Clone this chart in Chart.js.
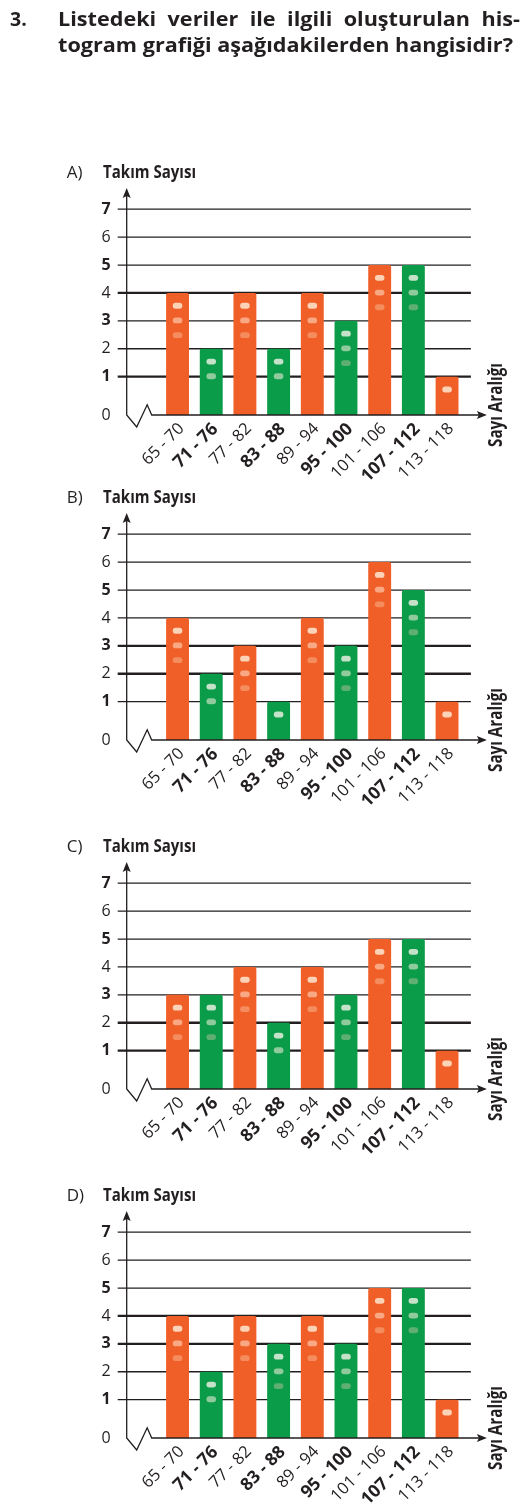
<!DOCTYPE html>
<html lang="tr">
<head>
<meta charset="utf-8">
<title>Histogram grafiği</title>
<script src="https://cdn.jsdelivr.net/npm/chart.js@4.4.1/dist/chart.umd.min.js"></script>
<style>
  html, body { margin: 0; padding: 0; background: #fff; }
  body { width: 531px; height: 1511px; position: relative; overflow: hidden; }
  #header { position: absolute; left: 0; top: 0; }
  .panel { position: absolute; left: 0; width: 531px; height: 330px; }
</style>
</head>
<body>
<canvas id="header" width="531" height="70"></canvas>
<div class="panel" style="top:150px"><canvas id="chartA" width="531" height="330"></canvas></div>
<div class="panel" style="top:475px"><canvas id="chartB" width="531" height="330"></canvas></div>
<div class="panel" style="top:824px"><canvas id="chartC" width="531" height="330"></canvas></div>
<div class="panel" style="top:1173px"><canvas id="chartD" width="531" height="330"></canvas></div>
<script>
// veriler
const categories = ["65 - 70", "71 - 76", "77 - 82", "83 - 88", "89 - 94", "95 - 100", "101 - 106", "107 - 112", "113 - 118"];
const seriesA = [4, 2, 4, 2, 4, 3, 5, 5, 1];
const seriesB = [4, 2, 3, 1, 4, 3, 6, 5, 1];
const seriesC = [3, 3, 4, 2, 4, 3, 5, 5, 1];
const seriesD = [4, 2, 4, 3, 4, 3, 5, 5, 1];
const yTickValues = [0, 1, 2, 3, 4, 5, 6, 7];
const yTickLabels = ["0", "1", "2", "3", "4", "5", "6", "7"];
const panelLetters = ["A)", "B)", "C)", "D)"];
const yTitle = "Takım Sayısı";
const xTitle = "Sayı Aralığı";
const questionNo = "3.";
const questionLine1 = "Listedeki veriler ile ilgili oluşturulan his-";
const questionLine2 = "togram grafiği aşağıdakilerden hangisidir?";

// stil
const ORANGE = "#F15F28";
const GREEN = "#0A9C48";
const INK = "#231F20";
const DOTS_ORANGE = ["#FDD3B8", "#F9A883", "#F58C5E"];
const DOTS_GREEN = ["#C3E2C8", "#8FCB9C", "#5FAF74"];
const Y_BASE = -0.373;   // kırık eksen: 0 burada
const Y_TOP = 7.76;
const FONT = "'Open Sans', 'Noto Sans', sans-serif";
const NARROW = "'Liberation Sans Narrow', 'Open Sans', sans-serif";

// metni genişliğe sığdır
function fitText(ctx, text, x, y, w) {
    const m = ctx.measureText(text).width;
    ctx.save();
    ctx.translate(x, y);
    ctx.scale(w / m, 1);
    ctx.fillText(text, 0, 0);
    ctx.restore();
}

// başlık
(function drawHeader() {
    const c = document.getElementById("header");
    const ctx = c.getContext("2d");
    ctx.fillStyle = INK;
    ctx.font = "bold 19.5px " + FONT;
    ctx.textBaseline = "alphabetic";
    ctx.fillText(questionNo, 10, 26);

    const s = 455 / ctx.measureText(questionLine2).width;
    ctx.save();
    ctx.translate(58, 52.3);
    ctx.scale(s, 1);
    ctx.fillText(questionLine2, 0, 0);
    ctx.restore();

    // ilk satır iki yana yaslı
    const words = questionLine1.split(" ");
    const widths = words.map(w => ctx.measureText(w).width * s);
    const total = widths.reduce((a, b) => a + b, 0);
    const gap = (462 - total) / (words.length - 1);
    let x = 58;
    words.forEach((w, i) => {
        ctx.save();
        ctx.translate(x, 26);
        ctx.scale(s, 1);
        ctx.fillText(w, 0, 0);
        ctx.restore();
        x += widths[i] + gap;
    });
})();

// eksenler, ızgara, noktalar
const decor = {
    id: "decor",
    beforeDatasetsDraw(chart, args, opts) {
        const { ctx, chartArea: a, scales: { y } } = chart;
        ctx.save();
        ctx.strokeStyle = INK;
        yTickValues.forEach(v => {
            if (v === 0) return;
            const py = y.getPixelForValue(v);
            ctx.lineWidth = opts.thick.includes(v) ? 2.3 : 1.3;
            ctx.beginPath();
            ctx.moveTo(a.left - 43, py);
            ctx.lineTo(a.right + 7, py);
            ctx.stroke();
        });
        ctx.restore();
    },
    afterDatasetsDraw(chart, args, opts) {
        const { ctx, chartArea: a, scales: { y } } = chart;
        const values = chart.data.datasets[0].data;
        const axisY = y.getPixelForValue(Y_BASE);
        const xA = a.left - 34;

        // çubuk üzerindeki noktalar
        chart.getDatasetMeta(0).data.forEach((bar, i) => {
            const n = Math.min(values[i], 3);
            const cols = i % 2 ? DOTS_GREEN : DOTS_ORANGE;
            for (let k = 0; k < n; k++) {
                const cy = bar.y + 12.8 + k * 14.7;
                ctx.fillStyle = cols[k];
                ctx.beginPath();
                ctx.roundRect(bar.x - 4.8, cy - 2.9, 9.6, 5.8, 2.9);
                ctx.fill();
            }
        });

        ctx.save();
        ctx.strokeStyle = INK;
        ctx.fillStyle = INK;
        ctx.lineWidth = 1.3;
        ctx.lineJoin = "miter";

        // dikey eksen + kırık
        ctx.beginPath();
        ctx.moveTo(xA, a.top + 6);
        ctx.lineTo(xA, axisY);
        ctx.lineTo(xA + 10, axisY + 12);
        ctx.lineTo(xA + 20.5, axisY - 10.3);
        ctx.lineTo(xA + 25, axisY);
        ctx.lineTo(a.right + 17, axisY);
        ctx.stroke();

        // oklar
        ctx.beginPath();
        ctx.moveTo(xA, a.top);
        ctx.lineTo(xA + 4, a.top + 10);
        ctx.lineTo(xA, a.top + 8);
        ctx.lineTo(xA - 4, a.top + 10);
        ctx.closePath();
        ctx.fill();
        ctx.beginPath();
        ctx.moveTo(a.right + 23, axisY);
        ctx.lineTo(a.right + 13, axisY + 4);
        ctx.lineTo(a.right + 15, axisY);
        ctx.lineTo(a.right + 13, axisY - 4);
        ctx.closePath();
        ctx.fill();

        // yazılar
        ctx.textBaseline = "alphabetic";
        ctx.textAlign = "left";
        ctx.font = "17px " + FONT;
        ctx.fillText(opts.letter, 66.7, axisY - 237);
        ctx.font = "bold 18px " + NARROW;
        fitText(ctx, yTitle, 103, axisY - 237, 93);

        ctx.translate(502, axisY - 10);
        ctx.rotate(-Math.PI / 2);
        ctx.font = "bold 19px " + NARROW;
        fitText(ctx, xTitle, -42, 0, 84);
        ctx.restore();
    }
};

function makeChart(id, letter, values, thick) {
    return new Chart(document.getElementById(id), {
        type: "bar",
        data: {
            labels: categories,
            datasets: [{
                data: values,
                base: Y_BASE,
                backgroundColor: c => c.dataIndex % 2 ? GREEN : ORANGE,
                borderRadius: { topLeft: 2, topRight: 2, bottomLeft: 0, bottomRight: 0 },
                borderSkipped: "bottom",
                categoryPercentage: 1,
                barPercentage: 0.68,
            }],
        },
        options: {
            responsive: false,
            animation: false,
            events: [],
            layout: { padding: { left: 100.7, right: 67.1, top: 38, bottom: 0 } },
            plugins: {
                legend: { display: false },
                tooltip: { enabled: false },
                decor: { letter: letter, thick: thick },
            },
            scales: {
                x: {
                    type: "category",
                    offset: true,
                    grid: { display: false, drawTicks: false },
                    border: { display: false },
                    ticks: {
                        autoSkip: false,
                        minRotation: 45,
                        maxRotation: 45,
                        padding: 4,
                        labelOffset: 4,
                        color: INK,
                        font: c => c.index % 2 ? { family: NARROW, size: 17.5, weight: "bold" } : { family: NARROW, size: 16.5, weight: "normal" },
                    },
                    afterFit: s => { s.height = 65; },
                },
                y: {
                    type: "linear",
                    min: Y_BASE,
                    max: Y_TOP,
                    grid: { display: false, drawTicks: false },
                    border: { display: false },
                    afterBuildTicks: s => {
                        s.ticks = yTickValues.map(v => ({ value: v === 0 ? Y_BASE : v }));
                    },
                    ticks: {
                        padding: 50,
                        color: INK,
                        callback: (v, i) => yTickLabels[i],
                        font: c => c.index % 2 ? { family: FONT, size: 16, weight: "bold" } : { family: FONT, size: 16, weight: "normal" },
                    },
                    afterFit: s => {
                        s.width = 60;
                        s.paddingTop = 0;
                        s.paddingBottom = 0;
                    },
                },
            },
        },
        plugins: [decor],
    });
}

makeChart("chartA", panelLetters[0], seriesA, [4, 1]);
makeChart("chartB", panelLetters[1], seriesB, [3, 2]);
makeChart("chartC", panelLetters[2], seriesC, [2, 1]);
makeChart("chartD", panelLetters[3], seriesD, [4, 3]);
</script>
</body>
</html>
